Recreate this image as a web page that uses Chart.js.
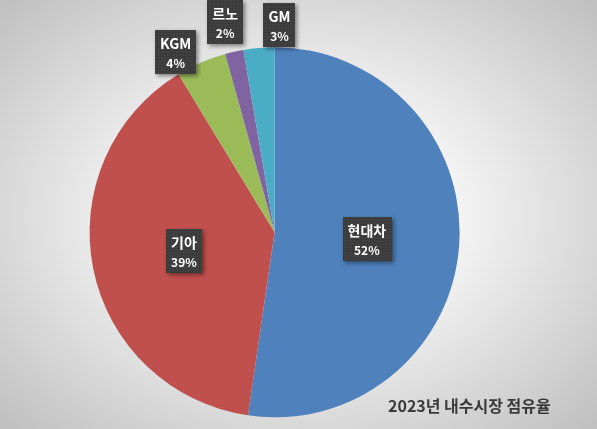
<!DOCTYPE html>
<html><head><meta charset="utf-8">
<script src="https://cdn.jsdelivr.net/npm/chart.js@4"></script>
<style>
html,body{margin:0;padding:0;}
body{width:597px;height:429px;overflow:hidden;background:radial-gradient(ellipse farthest-corner at 50% 50%, #ffffff 0%, #fafafa 30%, #bfbfbf 100%);}
#wrap{position:relative;width:597px;height:429px;}
</style></head>
<body><div id="wrap"><canvas id="c"></canvas></div>
<script>
// ---- data ----
const categories = ['현대차', '기아', 'KGM', '르노', 'GM'];
const shares = [52.3, 39.0, 4.4, 1.6, 2.7];
const titleText = '2023년 내수시장 점유율';

// ---- style ----
const colors = ['#4F81BD', '#C0504D', '#9BBB59', '#8064A2', '#4BACC6'];
const labelStyle = {
  radius: [0.5, 0.5, 1.11, 1.17, 1.12],   // relative to outer radius
  shift: [0, 0, -5.4, -0.6, 6.2],          // degrees
  font1: 'bold 14px "Noto Sans CJK KR"',
  font2: 'bold 12px "Noto Sans CJK KR"',
  height: 44
};

function makePattern(ctx) {
  const p = document.createElement('canvas');
  p.width = 3; p.height = 3;
  const pc = p.getContext('2d');
  pc.fillStyle = '#3a3a3a'; pc.fillRect(0, 0, 3, 3);
  pc.fillStyle = '#4a4a4a'; pc.fillRect(0, 0, 1, 1); pc.fillRect(2, 1, 1, 1);
  return ctx.createPattern(p, 'repeat');
}

const labelPlugin = {
  id: 'boxLabels',
  afterDatasetsDraw(chart) {
    const ctx = chart.ctx;
    const meta = chart.getDatasetMeta(0);
    const data = chart.data.datasets[0].data;
    const total = data.reduce((a, b) => a + b, 0);
    const pattern = makePattern(ctx);
    meta.data.forEach((arc, i) => {
      const p = arc.getProps(['x', 'y', 'startAngle', 'endAngle', 'outerRadius'], true);
      const mid = (p.startAngle + p.endAngle) / 2 + labelStyle.shift[i] * Math.PI / 180;
      const r = p.outerRadius * labelStyle.radius[i];
      const cx = p.x + Math.cos(mid) * r;
      const cy = p.y + Math.sin(mid) * r;
      const l1 = chart.data.labels[i];
      const l2 = Math.round(data[i] / total * 100) + '%';
      ctx.save();
      ctx.font = labelStyle.font1;
      const w1 = ctx.measureText(l1).width;
      ctx.font = labelStyle.font2;
      const w2 = ctx.measureText(l2).width;
      const w = Math.max(w1, w2) + 10;
      const h = labelStyle.height;
      const bx = Math.round(cx - w / 2), by = Math.round(cy - h / 2);
      ctx.shadowColor = 'rgba(0,0,0,0.45)';
      ctx.shadowBlur = 4;
      ctx.shadowOffsetX = 2;
      ctx.shadowOffsetY = 2;
      ctx.fillStyle = pattern;
      ctx.fillRect(bx, by, Math.round(w), h);
      ctx.shadowColor = 'transparent';
      ctx.fillStyle = '#ffffff';
      ctx.textAlign = 'center';
      ctx.textBaseline = 'middle';
      ctx.font = labelStyle.font1;
      ctx.fillText(l1, cx, by + 14);
      ctx.font = labelStyle.font2;
      ctx.fillText(l2, cx, by + 33);
      ctx.restore();
    });
  }
};

const titlePlugin = {
  id: 'cornerTitle',
  afterDraw(chart) {
    const ctx = chart.ctx;
    ctx.save();
    ctx.font = 'bold 16px "Noto Sans CJK KR"';
    ctx.fillStyle = '#3a3a3a';
    ctx.textAlign = 'left';
    ctx.textBaseline = 'middle';
    ctx.fillText(titleText, 388, 406);
    ctx.restore();
  }
};

new Chart(document.getElementById('c'), {
  type: 'pie',
  data: {
    labels: categories,
    datasets: [{
      data: shares,
      backgroundColor: colors,
      borderWidth: 0
    }]
  },
  options: {
    responsive: true,
    maintainAspectRatio: false,
    animation: false,
    layout: { padding: { left: 89.6, right: 137.4, top: 47.3, bottom: 11.7 } },
    plugins: {
      legend: { display: false },
      tooltip: { enabled: false },
      title: { display: false }
    }
  },
  plugins: [labelPlugin, titlePlugin]
});
</script>
</body></html>
